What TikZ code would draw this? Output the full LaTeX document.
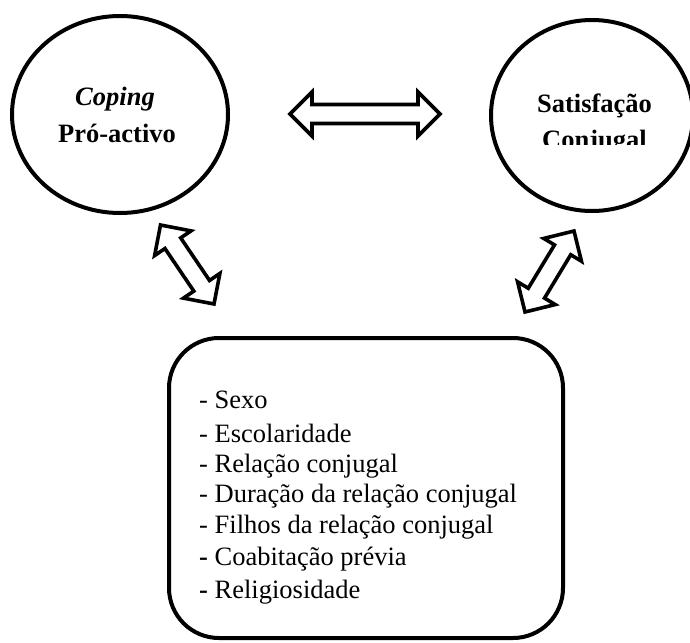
\documentclass[tikz,border=0pt]{standalone}
\usepackage{fontspec}
\setmainfont{Liberation Serif}
\usetikzlibrary{calc}
\tikzset{
  outline/.style={draw=black, line width=4pt},
  blockarrow/.style={draw=black, line width=3.6pt, line join=miter, fill=white},
  label/.style={inner sep=0pt, anchor=base, font=\fontsize{26.5}{30}\selectfont},
  item/.style={inner sep=0pt, anchor=base west, font=\fontsize{26.5}{30}\selectfont},
}
\newcommand\dblarrow[2]{%
  \coordinate (HA) at ($(#1)!22pt!(#2)$);
  \coordinate (HB) at ($(#2)!22pt!(#1)$);
  \draw[blockarrow] (#1) -- ($(HA)!22pt!90:(#2)$) -- ($(HA)!9.5pt!90:(#2)$)
    -- ($(HB)!9.5pt!-90:(#1)$) -- ($(HB)!22pt!-90:(#1)$) -- (#2)
    -- ($(HB)!22pt!90:(#1)$) -- ($(HB)!9.5pt!90:(#1)$)
    -- ($(HA)!9.5pt!-90:(#2)$) -- ($(HA)!22pt!-90:(#2)$) -- cycle;}
\begin{document}
\begin{tikzpicture}[x=1pt,y=-1pt]
\useasboundingbox (0,0) rectangle (690,642);
\clip (0,0) rectangle (690,642);
% circles
\draw[outline] (120,114.5) ellipse [x radius=108, y radius=98.5];
\coordinate (coping) at (120,114.5);
\draw[outline] (592,115.5) ellipse [x radius=101, y radius=95.5];
\coordinate (satis) at (592,115.5);
\node[label] (t1) at (115,105) {\itshape\bfseries Coping};
\node[label] (t2) at (117,142) {\bfseries Pró-activo};
\node[label] (t3) at (594.5,112) {\bfseries Satisfação};
\begin{scope}
\clip (480,120) rectangle (690,144);
\node[label] (t4) at (594.5,148) {\bfseries Conjugal};
\end{scope}
% box
\draw[outline, rounded corners=50pt] (169,338) rectangle (563,638);
\node[item] (i1) at (199,408) {- Sexo};
\node[item] (i2) at (199,442) {- Escolaridade};
\node[item] (i3) at (199,472) {- Relação conjugal};
\node[item] (i4) at (199,502) {- Duração da relação conjugal};
\node[item] (i5) at (199,533) {- Filhos da relação conjugal};
\node[item] (i6) at (199,565) {\textbf{-} Coabitação prévia};
\node[item] (i7) at (199,598) {\textbf{-} Religiosidade};
% arrows
\coordinate (h1) at (290,114);
\coordinate (h2) at (440,114);
\dblarrow{h1}{h2}
\coordinate (l1) at (160.5,225);
\coordinate (l2) at (214,304);
\dblarrow{l1}{l2}
\coordinate (r1) at (574,231);
\coordinate (r2) at (525,312);
\dblarrow{r1}{r2}
\end{tikzpicture}
\end{document}
